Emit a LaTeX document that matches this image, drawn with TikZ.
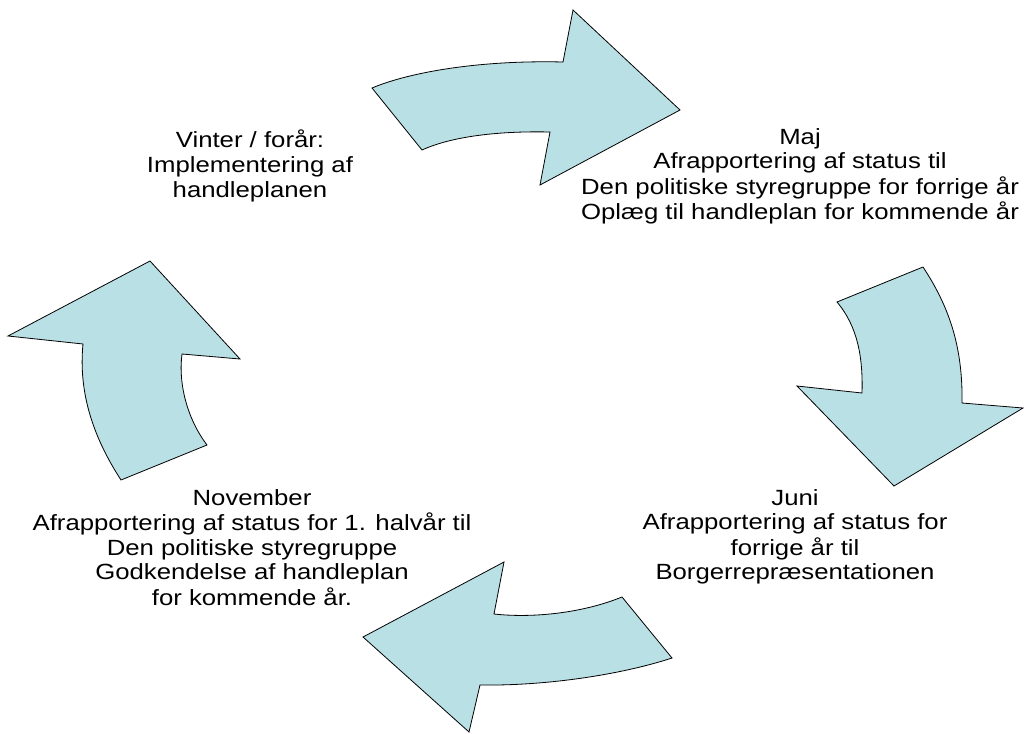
\documentclass[tikz,border=0pt]{standalone}
\usepackage{fontspec}
\setmainfont{Liberation Sans}
\usetikzlibrary{positioning}
\definecolor{arrowfill}{RGB}{185,224,228}
\newcommand{\phaselines}[1]{\scalebox{1.17}[1]{\begin{tabular}{@{}c@{}}#1\end{tabular}}}

\begin{document}
\begin{tikzpicture}[x=1pt, y=-1pt,
    cyclearrow/.style={draw=black, line width=0.8pt, fill=arrowfill, line join=miter},
    phase/.style={inner sep=0pt, anchor=north, font=\fontsize{22}{24.8}\selectfont}
]
\useasboundingbox (0,0) rectangle (1024,733);

% Curved arrows of the yearly cycle
\draw[cyclearrow] (372,88) .. controls (410,72) and (480,60) .. (563,62) -- (573,10) -- (680,110)
    -- (540,185) -- (550,132) .. controls (505,131) and (455,135) .. (422,150) -- cycle;
\draw[cyclearrow] (837,302) -- (923,267) .. controls (948,305) and (963,345) .. (962,403) -- (1023,408)
    -- (894,486) -- (797,386) -- (862,393) .. controls (863,358) and (858,327) .. (837,302) -- cycle;
\draw[cyclearrow] (363,637) -- (504,562) -- (494,614) .. controls (530,618) and (580,614) .. (622,597)
    -- (672,658) .. controls (620,675) and (545,686) .. (480,685) -- (469,732) -- cycle;
\draw[cyclearrow] (150,261) -- (240,359) -- (182,354) .. controls (178,385) and (188,420) .. (207,445)
    -- (121,480) .. controls (95,440) and (78,395) .. (83,344) -- (8,336) -- cycle;

% Phase texts
\node[phase] (vinter) at (250,129.5) {\phaselines{Vinter / forår:\\Implementering af\\handleplanen}};
\node[phase] (maj) at (800,126.5) {\phaselines{Maj\\Afrapportering af status til\\Den politiske styregruppe for forrige år\\Oplæg til handleplan for kommende år}};
\node[phase] (juni) at (795,487.5) {\phaselines{Juni\\Afrapportering af status for\\forrige år til\\Borgerrepræsentationen}};
\node[phase] (november) at (252,487.5) {\phaselines{November\\Afrapportering af status for 1. halvår til\\Den politiske styregruppe\\Godkendelse af handleplan\\for kommende år.}};

\end{tikzpicture}
\end{document}
